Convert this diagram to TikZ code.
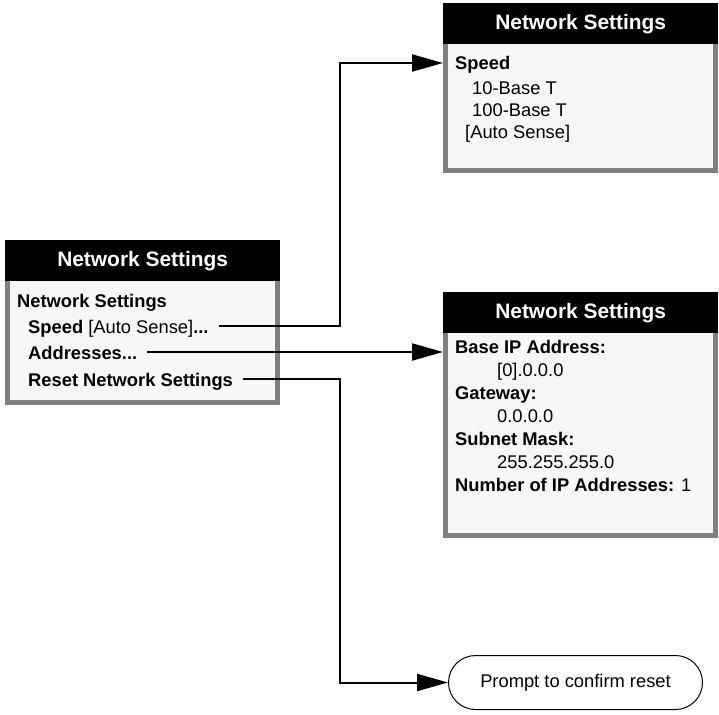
\documentclass[tikz,border=0pt]{standalone}
\usepackage{fontspec}
\setmainfont{Liberation Sans}
\usepackage{xcolor}
\usepackage{tikz}
\usetikzlibrary{arrows.meta, positioning}

\definecolor{frame}{gray}{0.5}
\definecolor{panel}{gray}{0.97}

\begin{document}
\begin{tikzpicture}[
    x=1bp, y=-1bp,
    menuhead/.style={rectangle, fill=black, text=white, inner sep=0pt,
                     minimum width=275bp, minimum height=41bp, anchor=north west,
                     font=\bfseries\fontsize{21}{25}\selectfont},
    menubody/.style={rectangle, fill=panel, draw=frame, line width=5bp,
                     inner sep=0pt, minimum width=270bp, anchor=north west},
    entry/.style={anchor=base west, inner sep=0pt, text height=14bp, text depth=0bp,
                  font=\fontsize{18.4}{22}\selectfont},
    terminal/.style={rectangle, draw, rounded corners=27bp, line width=1bp,
                     minimum width=254bp, minimum height=54bp,
                     font=\fontsize{18.4}{22}\selectfont},
    link/.style={-{Triangle[length=31bp, width=17bp]}, line width=2bp}
]
  \useasboundingbox (0,0) rectangle (719,715);

  \node[menubody, minimum height=150bp] (lbody) at (5,250) {};
  \node[menuhead] (lhead) at (5,240) {Network Settings};
  \node[entry] (ltitle) at (17,307) {\bfseries Network Settings};
  \node[entry] (lspeed) at (28,333) {\bfseries Speed \mdseries[Auto Sense]\bfseries...};
  \node[entry] (laddr) at (28,359) {\bfseries Addresses...};
  \node[entry] (lreset) at (28,386) {\bfseries Reset Network Settings};

  \node[menubody, minimum height=155bp] (sbody) at (443,13) {};
  \node[menuhead] (shead) at (443,3) {Network Settings};
  \node[entry] (sspeed) at (455,70) {\bfseries Speed};
  \node[entry] (sten) at (472,95) {10-Base T};
  \node[entry] (shundred) at (472,117) {100-Base T};
  \node[entry] (sauto) at (465,139) {[Auto Sense]};

  \node[menubody, minimum height=231bp] (abody) at (443,302) {};
  \node[menuhead] (ahead) at (443,292) {Network Settings};
  \node[entry] (abase) at (455,353) {\bfseries Base IP Address:};
  \node[entry] (abaseval) at (497,376.5) {[0].0.0.0};
  \node[entry] (agate) at (455,399.5) {\bfseries Gateway:};
  \node[entry] (agateval) at (497,422.5) {0.0.0.0};
  \node[entry] (amask) at (455,445.5) {\bfseries Subnet Mask:};
  \node[entry] (amaskval) at (497,468.5) {255.255.255.0};
  \node[entry] (anum) at (455,491.5) {\bfseries Number of IP Addresses: \mdseries 1};

  \node[terminal] (confirm) at (575.5,682.5) {Prompt to confirm reset};

  \coordinate (bus) at (340,0);

  \draw[link, shorten <=10bp] (lspeed.east) -| (bus |- sspeed.west) -- (sbody.west |- sspeed.west);
  \draw[link, shorten <=10bp] (laddr.east) -- (laddr.east -| abody.west);
  \draw[link, shorten <=10bp] (lreset.east) -| (bus |- confirm.west) -- (confirm.west);
\end{tikzpicture}
\end{document}
